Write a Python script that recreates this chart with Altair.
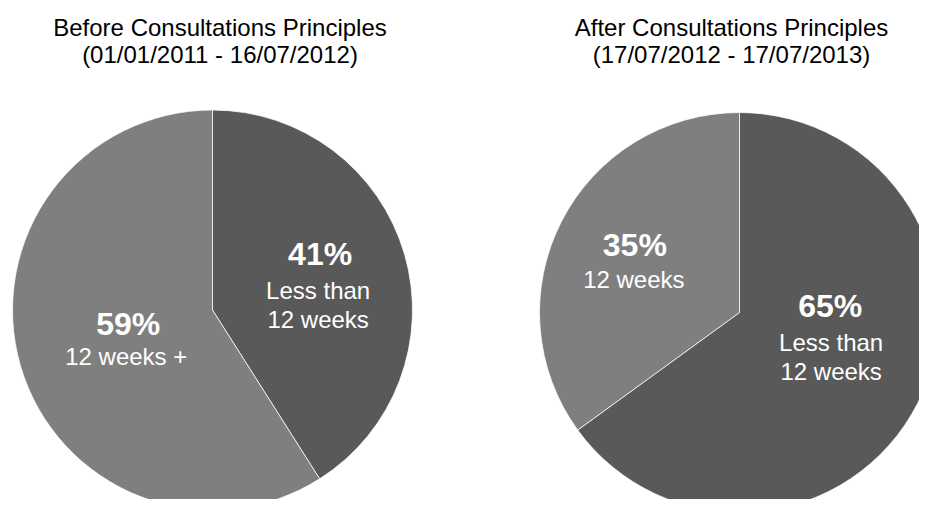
import math
import altair as alt
import pandas as pd

# ---- data ----
pie_titles = [
    "Before Consultations Principles\n(01/01/2011 - 16/07/2012)",
    "After Consultations Principles\n(17/07/2012 - 17/07/2013)",
]
categories = ["Less than 12 weeks", "12 weeks +"]
before_values = [41, 59]
before_pct = ["41%", "59%"]
before_sub = ["Less than\n12 weeks", "12 weeks +"]
after_values = [65, 35]
after_pct = ["65%", "35%"]
after_sub = ["Less than\n12 weeks", "12 weeks"]

FONT = "Liberation Sans"
theta_scale = alt.Scale(domain=[0, 100], range=[0, 2 * math.pi])
color_scale = alt.Scale(domain=categories, range=["#595959", "#7f7f7f"])


def make_df(values, pct, sub):
    return pd.DataFrame({
        "idx": list(range(len(values))),
        "category": categories,
        "value": values,
        "pct": pct,
        "sub": sub,
    })


def pie_layers(df, title, cx, cy, tx, label_cfg):
    layers = []
    layers.append(
        alt.Chart(df).mark_arc(radius=200, stroke="white", strokeWidth=0.75, clip=True).encode(
            x=alt.value(cx), y=alt.value(cy),
            theta=alt.Theta("value:Q", stack=True, scale=theta_scale),
            color=alt.Color("category:N", scale=color_scale, legend=None),
            order=alt.Order("idx:Q"),
        )
    )
    base = alt.Chart(df).transform_window(
        cum="sum(value)", sort=[alt.SortField("idx")], frame=[None, 0]
    ).transform_calculate(mid="datum.cum - datum.value / 2")
    for i, (r, pdx, pdy, sdx, sdy) in enumerate(label_cfg):
        sel = base.transform_filter(f"datum.idx == {i}")
        layers.append(
            sel.mark_text(font=FONT, fontSize=32, fontWeight="bold", color="white",
                          radius=r, dx=pdx, dy=pdy, align="center", baseline="alphabetic").encode(
                x=alt.value(cx), y=alt.value(cy),
                theta=alt.Theta("mid:Q", scale=theta_scale),
                text="pct:N",
            )
        )
        layers.append(
            sel.mark_text(font=FONT, fontSize=24, color="white", lineBreak="\n", lineHeight=29,
                          radius=r, dx=sdx, dy=sdy, align="center", baseline="alphabetic").encode(
                x=alt.value(cx), y=alt.value(cy),
                theta=alt.Theta("mid:Q", scale=theta_scale),
                text="sub:N",
            )
        )
    tdf = pd.DataFrame({"t": [title]})
    layers.append(
        alt.Chart(tdf).mark_text(font=FONT, fontSize=24, color="black", lineBreak="\n", lineHeight=27,
                                 align="center", baseline="alphabetic").encode(
            x=alt.value(tx), y=alt.value(28), text="t:N"
        )
    )
    return layers


left = pie_layers(make_df(before_values, before_pct, before_sub), pie_titles[0],
                  204.5, 302, 212,
                  [(110, 2, -14, 0, 20), (94, 6, -1, 4, 29)])
right = pie_layers(make_df(after_values, after_pct, after_sub), pie_titles[1],
                   731.5, 304.5, 723.5,
                   [(95, 6, -39, 7, -5), (113, -4, -5, -5, 27)])

chart = alt.layer(*left, *right).properties(
    width=911, height=491,
    autosize=alt.AutoSizeParams(type="none"),
    padding=0,
).configure_view(stroke=None)

chart.save("out.html", embed_options={"renderer": "svg", "actions": False})
